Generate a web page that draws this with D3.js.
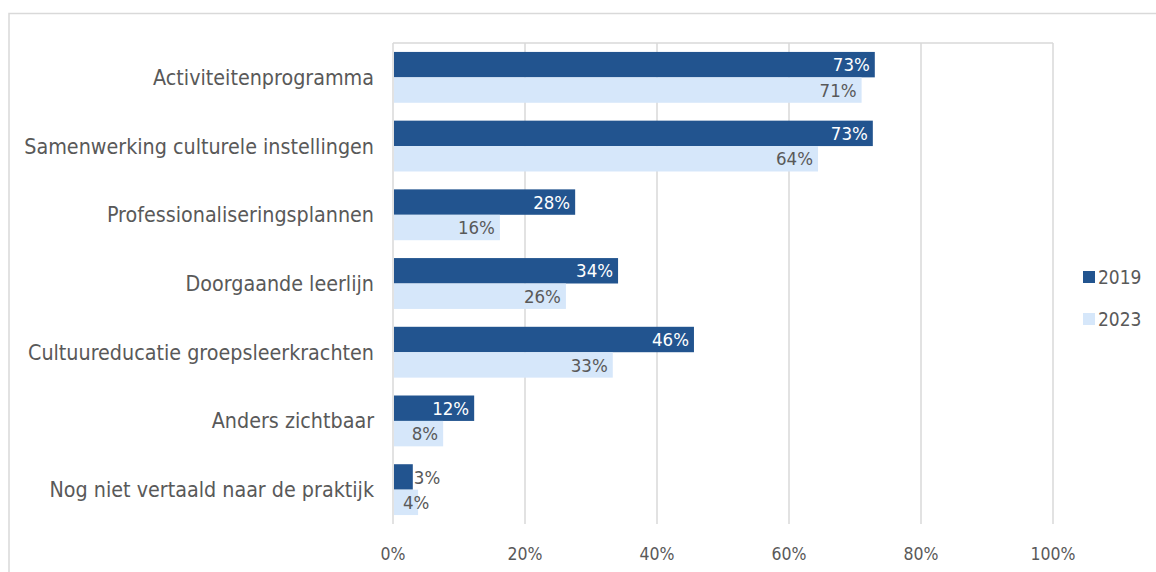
<!DOCTYPE html>
<html>
<head>
<meta charset="utf-8">
<script src="https://cdn.jsdelivr.net/npm/d3@7"></script>
<style>
  body { margin: 0; background: #fff; }
  text { font-family: "DejaVu Sans Condensed", "DejaVu Sans", sans-serif; }
</style>
</head>
<body>
<div id="chart"></div>
<script>
// data
var categories = ["Activiteitenprogramma", "Samenwerking culturele instellingen", "Professionaliseringsplannen",
  "Doorgaande leerlijn", "Cultuureducatie groepsleerkrachten", "Anders zichtbaar", "Nog niet vertaald naar de praktijk"];
var series = ["2019", "2023"];
var values2019 = [73.0, 72.7, 27.6, 34.1, 45.6, 12.3, 3.0];
var values2023 = [71.0, 64.4, 16.2, 26.2, 33.3, 7.6, 3.8];
var xTicks = [0, 20, 40, 60, 80, 100];

var width = 1156, height = 572;
var colors = { "2019": "#22548F", "2023": "#D6E7FA" };
var grey = "#595959";

var svg = d3.select("#chart").append("svg")
    .attr("width", width)
    .attr("height", height);

// outer chart frame
svg.append("rect")
    .attr("x", 9).attr("y", 13.5)
    .attr("width", 1200).attr("height", 700)
    .attr("fill", "none")
    .attr("stroke", "#d9d9d9")
    .attr("stroke-width", 1.5);

var x = d3.scaleLinear().domain([0, 100]).range([393, 1053]);
var y = d3.scaleBand().domain(categories).range([43, 524]).paddingInner(0.26).paddingOuter(0.13);
var ySub = d3.scaleBand().domain(series).range([0, y.bandwidth()]);

// plot area top edge
svg.append("line")
    .attr("x1", x(0)).attr("x2", x(100))
    .attr("y1", 43).attr("y2", 43)
    .attr("stroke", "#d9d9d9").attr("stroke-width", 1.5);

// gridlines
svg.append("g").selectAll("line")
    .data(xTicks)
  .enter().append("line")
    .attr("x1", function(d) { return x(d); })
    .attr("x2", function(d) { return x(d); })
    .attr("y1", 43).attr("y2", 524)
    .attr("stroke", "#d9d9d9").attr("stroke-width", 1.5);

// x tick labels
svg.append("g").selectAll("text")
    .data(xTicks)
  .enter().append("text")
    .attr("x", function(d) { return x(d); })
    .attr("y", 560)
    .attr("text-anchor", "middle")
    .attr("font-size", 17.5)
    .attr("fill", grey)
    .text(function(d) { return d + "%"; });

// category labels
svg.append("g").selectAll("text")
    .data(categories)
  .enter().append("text")
    .attr("x", 374)
    .attr("y", function(d) { return y(d) + y.bandwidth() / 2; })
    .attr("dy", "0.35em")
    .attr("text-anchor", "end")
    .attr("font-size", 21.3)
    .attr("fill", grey)
    .text(function(d) { return d; });

var rows = [];
categories.forEach(function(c, i) {
  rows.push({ cat: c, s: "2019", v: values2019[i] });
  rows.push({ cat: c, s: "2023", v: values2023[i] });
});

var bars = svg.append("g").selectAll("g")
    .data(rows)
  .enter().append("g");

bars.append("rect")
    .attr("x", x(0) + 1)
    .attr("y", function(d) { return y(d.cat) + ySub(d.s); })
    .attr("width", function(d) { return x(d.v) - x(0) - 1; })
    .attr("height", ySub.bandwidth())
    .attr("fill", function(d) { return colors[d.s]; });

// value labels: inside end, pushed out when the bar is too short
bars.append("text")
    .attr("y", function(d) { return y(d.cat) + ySub(d.s) + ySub.bandwidth() / 2; })
    .attr("dy", "0.36em")
    .attr("font-size", 18.5)
    .text(function(d) { return Math.round(d.v) + "%"; })
    .each(function(d) {
      var t = d3.select(this);
      var end = x(d.v);
      var fits = d.v >= 5;
      if (fits) {
        t.attr("x", end - 5).attr("text-anchor", "end")
         .attr("fill", d.s === "2019" ? "#fff" : grey);
      } else if (d.s === "2019") {
        t.attr("x", end + 1).attr("text-anchor", "start").attr("fill", grey);
      } else {
        t.attr("x", x(0) + 10).attr("text-anchor", "start").attr("fill", grey);
      }
    });

// legend
var legend = svg.append("g").selectAll("g")
    .data(series)
  .enter().append("g")
    .attr("transform", function(d, i) { return "translate(1083," + (277 + i * 42) + ")"; });

legend.append("rect")
    .attr("x", 0).attr("y", -6)
    .attr("width", 12).attr("height", 12)
    .attr("fill", function(d) { return colors[d]; });

legend.append("text")
    .attr("x", 15)
    .attr("dy", "0.36em")
    .attr("font-size", 19)
    .attr("fill", grey)
    .text(function(d) { return d; });
</script>
</body>
</html>
